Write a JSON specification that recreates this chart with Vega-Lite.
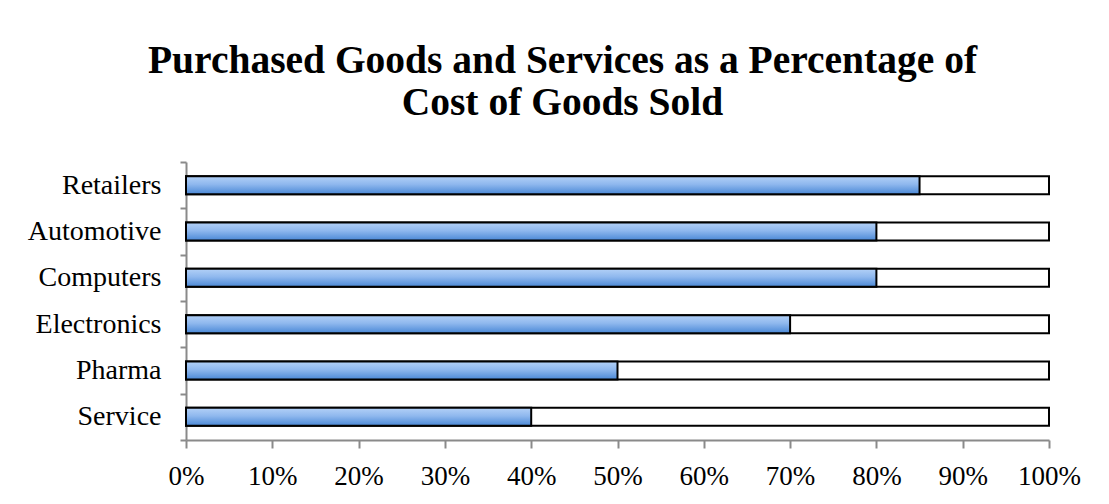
{
  "$schema": "https://vega.github.io/schema/vega-lite/v6.json",
  "width": 863,
  "height": 278,
  "autosize": {"type": "none"},
  "padding": {"left": 186, "top": 162, "right": 60, "bottom": 64},
  "background": "white",
  "title": {
    "text": ["Purchased Goods and Services as a Percentage of", "Cost of Goods Sold"],
    "font": "Liberation Serif",
    "fontSize": 39.5,
    "fontWeight": "bold",
    "color": "black",
    "anchor": "middle",
    "frame": "group",
    "dx": -55,
    "offset": 25,
    "lineHeight": 42
  },
  "config": {
    "view": {"stroke": null},
    "axis": {
      "labelFont": "Liberation Serif",
      "labelFontSize": 27,
      "labelColor": "black",
      "domainColor": "#8a8a8a",
      "domainWidth": 2,
      "tickColor": "#8a8a8a",
      "tickWidth": 2,
      "grid": false,
      "title": null
    }
  },
  "data": {
    "values": [
      {"industry": "Retailers", "share": 0.85},
      {"industry": "Automotive", "share": 0.80},
      {"industry": "Computers", "share": 0.80},
      {"industry": "Electronics", "share": 0.70},
      {"industry": "Pharma", "share": 0.50},
      {"industry": "Service", "share": 0.40}
    ]
  },
  "encoding": {
    "y": {
      "field": "industry",
      "type": "nominal",
      "sort": null,
      "scale": {"paddingInner": 0, "paddingOuter": 0},
      "axis": {"tickBand": "extent", "tickSize": 6, "labelPadding": 19, "labelFontSize": 28}
    }
  },
  "layer": [
    {
      "mark": {"type": "bar", "fill": "white", "stroke": "black", "strokeWidth": 2, "height": {"band": 0.39}},
      "encoding": {
        "x": {
          "datum": 0,
          "type": "quantitative",
          "scale": {"domain": [0, 1]},
          "axis": {"values": [0, 0.1, 0.2, 0.3, 0.4, 0.5, 0.6, 0.7, 0.8, 0.9, 1], "format": ".0%", "tickSize": 8, "labelPadding": 15, "labelFlush": false}
        },
        "x2": {"datum": 1}
      }
    },
    {
      "mark": {
        "type": "bar",
        "stroke": "black",
        "strokeWidth": 2,
        "height": {"band": 0.39},
        "fill": {
          "gradient": "linear",
          "x1": 0, "y1": 0, "x2": 0, "y2": 1,
          "stops": [
            {"offset": 0, "color": "#b3d1f7"},
            {"offset": 0.45, "color": "#8fb8ee"},
            {"offset": 1, "color": "#4a88d6"}
          ]
        }
      },
      "encoding": {
        "x": {"field": "share", "type": "quantitative"}
      }
    }
  ]
}
